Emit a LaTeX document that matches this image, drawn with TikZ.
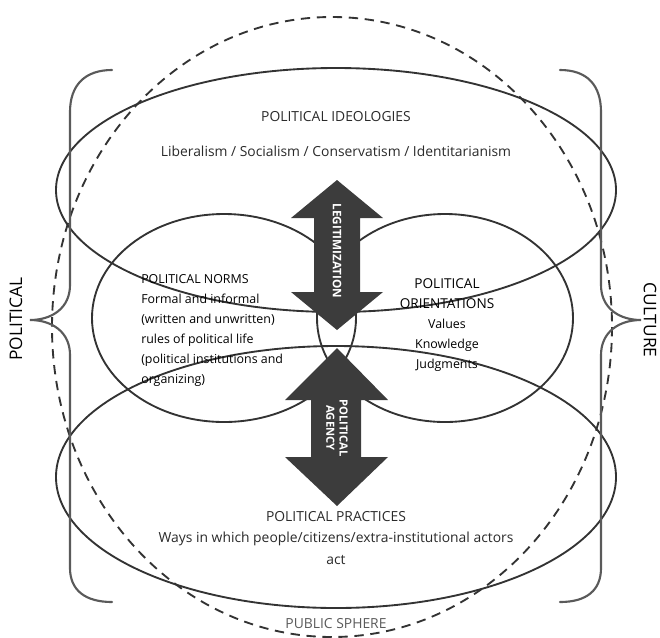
\documentclass[tikz,border=0pt]{standalone}
\usepackage{fontspec}
\setmainfont{Open Sans}
\definecolor{lncol}{HTML}{333333}
\definecolor{brcol}{HTML}{5A5A5A}
\definecolor{arrcol}{HTML}{3C3C3C}
\definecolor{txtcol}{HTML}{2A2A2A}
\begin{document}
\begin{tikzpicture}[x=0.75pt,y=-0.75pt,
  ln/.style={draw=lncol, line width=1.4pt},
  dsh/.style={draw=lncol, line width=1.4pt, dash pattern=on 7pt off 5pt},
  brc/.style={draw=brcol, line width=1.6pt, line cap=round},
  arr/.style={fill=arrcol, draw=none},
  lbl/.style={text=txtcol, font=\fontsize{10.4pt}{12pt}\selectfont, inner sep=0pt},
  blk/.style={text=black, font=\fontsize{9.3pt}{15pt}\selectfont, inner sep=0pt},
  arrtxt/.style={text=white, font=\bfseries\fontsize{8.8pt}{10pt}\selectfont, inner sep=0pt, rotate=-90, align=center}]
\useasboundingbox (0,0) rectangle (660,637);
% ellipses
\draw[ln] (336,190) ellipse [x radius=280, y radius=122];
\draw[ln] (336,477) ellipse [x radius=280, y radius=131];
\draw[ln] (224,318) ellipse [x radius=132, y radius=104];
\draw[ln] (445,318) ellipse [x radius=128, y radius=104];
\draw[dsh] (332,327) ellipse [x radius=280, y radius=310];
% braces
\draw[brc] (112,70) .. controls (85,70) and (70,85) .. (70,112) -- (70,285) .. controls (70,308) and (52,320) .. (30,320) .. controls (52,320) and (70,332) .. (70,355) -- (70,568) .. controls (70,590) and (85,602) .. (112,602);
\draw[brc] (560,70) .. controls (587,70) and (601,85) .. (601,112) -- (601,285) .. controls (601,308) and (619,320) .. (641,320) .. controls (619,320) and (601,332) .. (601,355) -- (601,568) .. controls (601,590) and (587,602) .. (560,602);
% arrows
\fill[arr] (337,180) -- (383,218) -- (360,218) -- (360,292) -- (383,292) -- (337,330) -- (291,292) -- (314,292) -- (314,218) -- (291,218) -- cycle;
\fill[arr] (337,348) -- (388,400) -- (361,400) -- (361,457) -- (388,457) -- (337,506) -- (285,457) -- (311,457) -- (311,400) -- (285,400) -- cycle;
\node[arrtxt] (legit) at (337,251) {LEGITIMIZATION};
\node[arrtxt, font=\bfseries\fontsize{8.4pt}{10pt}\selectfont] (agency) at (337,428) {POLITICAL\\AGENCY};
% texts
\node[lbl] (ideo) at (336,117) {POLITICAL IDEOLOGIES};
\node[lbl] (ideolist) at (336,151) {Liberalism / Socialism / Conservatism / Identitarianism};
\node[blk, anchor=north west, align=left] (norms) at (141,274) {POLITICAL NORMS\\Formal and informal\\(written and unwritten)\\rules of political life\\(political institutions and\\organizing)};
\node[blk, anchor=north, align=center] (orient) at (447,278) {{\fontsize{10.2pt}{15pt}\selectfont POLITICAL}\\{\fontsize{10.2pt}{15pt}\selectfont ORIENTATIONS}\\Values\\Knowledge\\Judgments};
\node[lbl] (prac) at (336,517) {POLITICAL PRACTICES};
\node[lbl, align=center, font=\fontsize{10.4pt}{16pt}\selectfont, anchor=north] (praclist) at (336,532) {Ways in which people/citizens/extra-institutional actors\\act};
\node[lbl, text=brcol] (public) at (336,624) {PUBLIC SPHERE};
\node[lbl, text=black, rotate=90, font=\fontsize{13pt}{15pt}\selectfont] (pol) at (16,319) {POLITICAL};
\node[lbl, text=black, rotate=-90, font=\fontsize{13pt}{15pt}\selectfont] (cult) at (650,320) {CULTURE};
\end{tikzpicture}
\end{document}
